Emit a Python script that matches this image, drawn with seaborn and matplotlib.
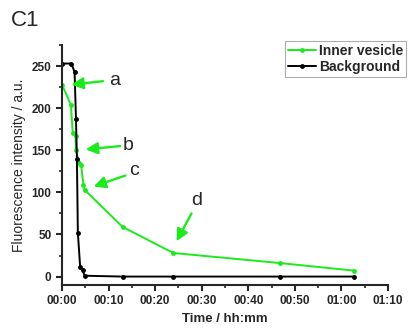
import matplotlib
matplotlib.use("Agg")
import matplotlib.pyplot as plt
import matplotlib.ticker as mticker
import pandas as pd
import seaborn as sns

# ── data (time in minutes, intensity in a.u.) ─────────────────────────────────
inner_time = [0, 1.9, 2.3, 2.9, 3.0, 3.7, 4.1, 4.6, 4.85, 13.0, 23.9, 46.9, 62.8]
inner_val = [228, 204, 171, 167, 150, 135, 132, 109, 103, 59, 28, 16, 7]
bg_time = [0, 2.0, 2.7, 3.0, 3.2, 3.4, 3.9, 4.4, 4.85, 13.0, 23.9, 46.9, 62.8]
bg_val = [253, 253, 243, 187, 140, 52, 11, 8, 1, 0, 0, 0, 0]
series_names = ["Inner vesicle", "Background"]

# annotations: label, text pos, arrow tail, arrow head (data coords)
labels = ["a", "b", "c", "d"]
label_pos = [(11.4, 233), (14.3, 156), (15.5, 126), (28.8, 90)]
arrow_tail = [(8.8, 232), (12.5, 155), (13.6, 120), (27.8, 75)]
arrow_head = [(2.0, 228), (5.1, 151), (6.8, 107), (24.6, 42)]

GREEN = "#1aeb1a"
COLORS = {"Inner vesicle": GREEN, "Background": "black"}

sns.set_style("ticks")
plt.rcParams["font.family"] = ["Liberation Sans", "DejaVu Sans"]

df = pd.concat([
    pd.DataFrame({"Time": inner_time, "Value": inner_val, "Series": series_names[0]}),
    pd.DataFrame({"Time": bg_time, "Value": bg_val, "Series": series_names[1]}),
])

fig = plt.figure(figsize=(4.08, 3.31), dpi=100)
ax = fig.add_axes([0.152, 0.139, 0.799, 0.725])

sns.lineplot(data=df, x="Time", y="Value", hue="Series", hue_order=series_names,
             palette=COLORS, marker="o", markersize=3.5, markeredgewidth=0,
             linewidth=1.4, sort=False, estimator=None, ax=ax)

for lab, tp, tail, head in zip(labels, label_pos, arrow_tail, arrow_head):
    ax.annotate("", xy=head, xytext=tail,
                arrowprops=dict(arrowstyle="-|>,head_length=0.7,head_width=0.35",
                                color=GREEN, lw=1.7, shrinkA=0, shrinkB=0))
    ax.text(tp[0], tp[1], lab, fontsize=14, ha="center", va="center")

ax.set_xlim(0, 70)
ax.set_ylim(-10, 275)
ax.xaxis.set_major_locator(mticker.MultipleLocator(10))
ax.xaxis.set_minor_locator(mticker.MultipleLocator(5))
ax.yaxis.set_major_locator(mticker.MultipleLocator(50))
ax.yaxis.set_minor_locator(mticker.MultipleLocator(25))
ax.xaxis.set_major_formatter(mticker.FuncFormatter(
    lambda v, _: f"{int(v) // 60:02d}:{int(v) % 60:02d}"))
ax.tick_params(which="major", direction="out", length=4, width=1.5, labelsize=8.5)
ax.tick_params(which="minor", direction="out", length=2.5, width=1.2)
for lbl in ax.get_xticklabels() + ax.get_yticklabels():
    lbl.set_fontweight("bold")
for side in ["left", "bottom"]:
    ax.spines[side].set_linewidth(1.5)
sns.despine(ax=ax)

ax.set_xlabel("Time / hh:mm", fontsize=9.5, fontweight="bold")
ax.set_ylabel("Fluorescence intensity / a.u.", fontsize=10)

leg = ax.legend(loc="upper left", bbox_to_anchor=(0.685, 1.015), frameon=True,
                fancybox=False, edgecolor="#999999", handlelength=2.0,
                handletextpad=0.25, borderpad=0.2, borderaxespad=0,
                labelspacing=0.12, prop={"weight": "bold", "size": 10})
leg.get_frame().set_linewidth(0.8)

fig.text(0.027, 0.92, "C1", fontsize=16)

fig.savefig("out.png", dpi=100)
